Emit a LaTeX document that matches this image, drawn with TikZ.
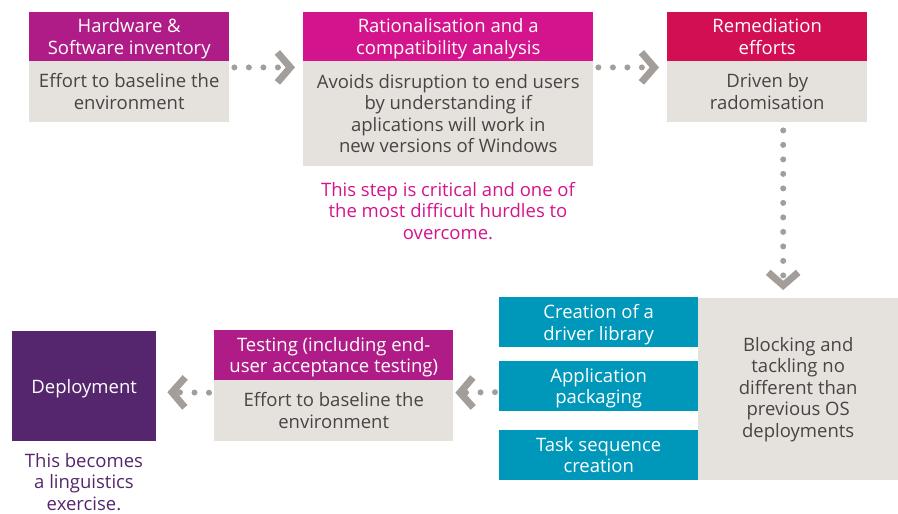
\documentclass[tikz,border=0pt]{standalone}
\usepackage{fontspec}
\setmainfont{Open Sans}
\usetikzlibrary{arrows.meta,calc}
\definecolor{hdrA}{HTML}{B01C87}
\definecolor{hdrB}{HTML}{D4148C}
\definecolor{hdrC}{HTML}{D10F52}
\definecolor{deep}{HTML}{55266D}
\definecolor{teal}{HTML}{0098BA}
\definecolor{pale}{HTML}{E5E2DE}
\definecolor{txt}{HTML}{4A4341}
\definecolor{arr}{HTML}{A39E9A}
\begin{document}
\begin{tikzpicture}[x=1pt,y=-1pt,
  box/.style={anchor=north west, inner sep=0pt, align=center, fill=pale, text=txt,
    font=\fontsize{18.5}{21.5}\selectfont},
  hdr/.style={box, text=white, text depth=0pt},
  note/.style={align=center, inner sep=0pt, font=\fontsize{18.5}{21.5}\selectfont},
  conn/.style={draw=arr, line width=6pt, line cap=round, dash pattern=on 0pt off 14.5pt,
    -{Straight Barb[length=13pt,width=30pt,line width=7pt]}}]
\useasboundingbox (0,0) rectangle (898,514);
% top row
\node[hdr, fill=hdrA, minimum width=200pt, minimum height=49pt] (h1) at (29,12) {Hardware \&\\Software inventory};
\node[box, minimum width=200pt, minimum height=61pt] (b1) at (29,61) {Effort to baseline the\\environment};
\node[hdr, fill=hdrB, minimum width=290pt, minimum height=49pt] (h2) at (303,12) {Rationalisation and a\\compatibility analysis};
\node[box, minimum width=290pt, minimum height=105pt] (b2) at (303,61) {Avoids disruption to end users\\by understanding if\\aplications will work in\\new versions of Windows};
\node[hdr, fill=hdrC, minimum width=200pt, minimum height=49pt] (h3) at (667,12) {Remediation\\efforts};
\node[box, minimum width=200pt, minimum height=61pt] (b3) at (667,61) {Driven by\\radomisation};
\node[note, text=hdrB] (n2) at (448,211) {This step is critical and one of\\the most difficult hurdles to\\overcome.};
% bottom row
\node[hdr, fill=teal, minimum width=199pt, minimum height=50pt] (t1) at (499,297) {Creation of a\\driver library};
\node[hdr, fill=teal, minimum width=199pt, minimum height=50pt] (t2) at (499,361) {Application\\packaging};
\node[hdr, fill=teal, minimum width=199pt, minimum height=50pt] (t3) at (499,430) {Task sequence\\creation};
\node[box, minimum width=200pt, minimum height=182pt] (g) at (698,298) {Blocking and\\tackling no\\different than\\previous OS\\deployments};
\node[hdr, fill=hdrA, minimum width=239pt, minimum height=50pt] (th) at (214,330) {Testing (including end-\\user acceptance testing)};
\node[box, minimum width=239pt, minimum height=61pt] (tb) at (214,380) {Effort to baseline the\\environment};
\node[hdr, fill=deep, minimum width=144pt, minimum height=110pt] (d) at (12,331) {Deployment};
\node[note, text=deep] (nd) at (84,482) {This becomes\\a linguistics\\exercise.};
% connectors
\draw[conn] ([shift={(5,6)}]h1.south east) -- ([shift={(-8,6)}]h2.south west);
\draw[conn] ([shift={(5,6)}]h2.south east) -- ([shift={(-8,6)}]h3.south west);
\draw[conn] ([shift={(16,8)}]b3.south) -- ([shift={(-15,-8)}]g.north);
\draw[conn] ([shift={(-4,6)}]t2.west) -- ([shift={(2,-18)}]tb.east);
\draw[conn] ([shift={(-5,-18)}]tb.west) -- ([shift={(11,6)}]d.east);
\end{tikzpicture}
\end{document}
